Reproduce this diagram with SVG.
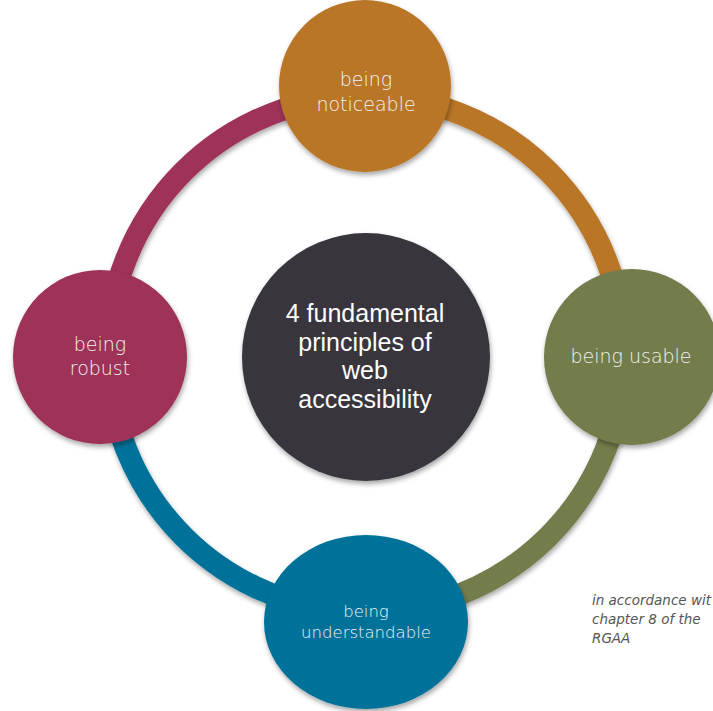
<svg xmlns="http://www.w3.org/2000/svg" width="713" height="711" viewBox="0 0 713 711">
  <defs>
    <filter id="sh" x="-20%" y="-20%" width="140%" height="140%">
      <feDropShadow dx="1" dy="3" stdDeviation="2.5" flood-color="#000" flood-opacity="0.35"/>
    </filter>
  </defs>
  <style>
    .ring { fill: none; stroke-width: 22; filter: url(#sh); }
    .node { filter: url(#sh); }
    .lbl { font-family: "DejaVu Sans", "Liberation Sans", sans-serif; font-weight: 200; font-size: 19px; fill: #f2f2f2; text-anchor: middle; }
    .ctr { font-family: "Liberation Sans", Arial, sans-serif; font-size: 25px; fill: #ffffff; text-anchor: middle; }
    .note { font-family: "DejaVu Sans", "Liberation Sans", sans-serif; font-weight: 200; font-style: italic; font-size: 13.5px; fill: #555555; }
  </style>
  <rect width="713" height="711" fill="#ffffff"/>
  <g id="connectors">
    <path class="ring" stroke="#9E3159" d="M 108 354 A 258 258 0 0 1 366 96"/>
    <path class="ring" stroke="#B97628" d="M 366 96 A 258 258 0 0 1 624 354"/>
    <path class="ring" stroke="#737B4C" d="M 624 354 A 258 258 0 0 1 366 612"/>
    <path class="ring" stroke="#00729A" d="M 366 612 A 258 258 0 0 1 108 354"/>
  </g>
  <g id="center">
    <circle class="node" cx="366" cy="357" r="124" fill="#37363D"/>
    <text class="ctr" x="365" y="322">4 fundamental</text>
    <text class="ctr" x="365" y="350.5">principles of</text>
    <text class="ctr" x="365" y="379">web</text>
    <text class="ctr" x="365" y="407.5">accessibility</text>
  </g>
  <g id="noticeable">
    <circle class="node" cx="365" cy="86" r="86" fill="#B97628"/>
    <text class="lbl" x="366" y="86">being</text>
    <text class="lbl" x="366" y="111">noticeable</text>
  </g>
  <g id="robust">
    <circle class="node" cx="100" cy="357" r="87" fill="#9E3159"/>
    <text class="lbl" x="100" y="351">being</text>
    <text class="lbl" x="100" y="375">robust</text>
  </g>
  <g id="usable">
    <circle class="node" cx="632" cy="357" r="88" fill="#737B4C"/>
    <text class="lbl" x="631" y="363">being usable</text>
  </g>
  <g id="understandable">
    <ellipse class="node" cx="366" cy="622" rx="102" ry="87" fill="#00729A"/>
    <text class="lbl" x="366" y="617" style="font-size:16.5px">being</text>
    <text class="lbl" x="366" y="638" style="font-size:16.5px">understandable</text>
  </g>
  <g id="note">
    <text class="note" x="592" y="605">in accordance wit</text>
    <text class="note" x="592" y="624">chapter 8 of the</text>
    <text class="note" x="592" y="643">RGAA</text>
  </g>
</svg>
